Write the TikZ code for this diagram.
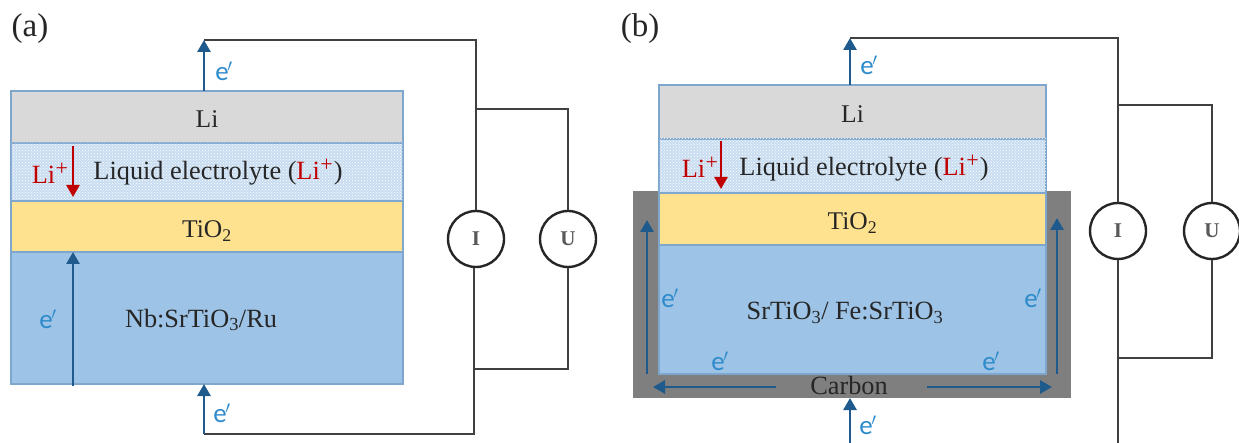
\documentclass[tikz,border=0pt]{standalone}
\usepackage{fontspec}
\setmainfont{Liberation Serif}
\newfontfamily\sfcal{Carlito}
\usetikzlibrary{arrows.meta,patterns}
\definecolor{edge}{HTML}{7FA6CC}
\definecolor{lig}{HTML}{D9D9D9}
\definecolor{eleb}{HTML}{C9DDF1}
\definecolor{tio}{HTML}{FFE28F}
\definecolor{sto}{HTML}{9DC3E6}
\definecolor{carb}{HTML}{7F7F7F}
\definecolor{arrb}{HTML}{1F5A8C}
\definecolor{elec}{HTML}{2E8BCB}
\definecolor{lir}{HTML}{C00000}
\definecolor{wire}{HTML}{404040}
\tikzset{
 layer/.style={draw=edge,line width=1.3pt,rectangle,inner sep=0pt,outer sep=0pt,anchor=north west,font=\fontsize{25.5}{27}\selectfont,text=black!85},
 lbl/.style={inner sep=0pt,font=\fontsize{26.3}{28}\selectfont,text=black!85},
 wirec/.style={draw=wire,line width=1.5pt},
 meter/.style={circle,draw=black!85,line width=2.4pt,minimum size=56pt,inner sep=0pt,font=\bfseries\fontsize{21}{23}\selectfont,fill=white,text=black!65},
 ecar/.style={draw=arrb,line width=2.7pt,-{Triangle[length=12pt,width=13pt]}},
 liar/.style={draw=lir,line width=2.5pt,-{Triangle[length=12pt,width=13pt]}},
 elab/.style={inner sep=0pt,text=elec,font=\sfcal\fontsize{27}{29}\selectfont},
 pan/.style={inner sep=0pt,font=\fontsize{33}{35}\selectfont,text=black!85}
}
\newcommand{\ep}{e\kern-1.5pt$'$}
\newcommand{\Lip}{\textcolor{lir}{Li\kern0.5pt\raisebox{8pt}{\fontsize{22}{22}\selectfont+}}}
\newcommand{\lowr}[1]{\raisebox{-2.5pt}[\height][0pt]{#1}}
\begin{document}
\begin{tikzpicture}[x=1pt,y=-1pt]
\useasboundingbox (0,0) rectangle (1239,443);
% ---------- panel (a)
\node[pan] (pa) at (30,29) {(a)};
\node[layer,fill=lig,minimum width=392pt,minimum height=52pt] (aLi) at (11,91) {\lowr{Li}};
\node[layer,fill=eleb,minimum width=392pt,minimum height=58pt] (aEl) at (11,143) {};
\fill[pattern=crosshatch dots,pattern color=white] (aEl.north west) rectangle (aEl.south east);
\node[layer,fill=tio,minimum width=392pt,minimum height=51pt] (aTi) at (11,201) {\lowr{TiO\textsubscript{2}}};
\node[layer,fill=sto,minimum width=392pt,minimum height=132pt] (aSt) at (11,252) {};
\node[lbl] (aElT) at (218,172) {Liquid electrolyte (\Lip\kern1pt)};
\node[lbl] (aLiI) at (50,173) {\Lip};
\node[lbl] (aStT) at (201,320) {Nb:SrTiO\textsubscript{3}/Ru};
\coordinate (aTopW) at (204,40);
\coordinate (aBotW) at (204,434);
\coordinate (aLiBot) at (204,91);
\coordinate (aStBot) at (204,384);
\node[meter] (aI) at (476,239) {I};
\node[meter] (aU) at (568,239) {U};
\coordinate (aJ1) at (476,109);
\coordinate (aJ1r) at (568,109);
\coordinate (aJ2) at (474,369);
\coordinate (aJ2r) at (568,369);
\coordinate (aC) at (476,40);
\coordinate (aD) at (474,434);
\draw[wirec] (aTopW) -- (aC) -- (aI.north);
\draw[wirec] (aI.south) ++(-2,0) -- (aD) -- (aBotW);
\draw[wirec] (aJ1) -- (aJ1r) -- (aU.north);
\draw[wirec] (aU.south) -- (aJ2r) -- (aJ2);
\draw[ecar] (aLiBot) -- (aTopW);
\draw[ecar] (aBotW) -- (aStBot);
\coordinate (aA1) at (73,386);
\coordinate (aA2) at (73,252);
\draw[ecar] (aA1) -- (aA2);
\coordinate (aR1) at (73,146);
\coordinate (aR2) at (73,197);
\draw[liar] (aR1) -- (aR2);
\node[elab] (ae1) at (224,71) {\ep};
\node[elab] (ae2) at (222,413) {\ep};
\node[elab] (ae3) at (48,319) {\ep};
% ---------- panel (b)
\node[pan] (pb) at (640,29) {(b)};
\node[rectangle,fill=carb,draw=none,inner sep=0pt,minimum width=438pt,minimum height=207pt,anchor=north west] (bC) at (633,191) {};
\node[layer,fill=lig,minimum width=387pt,minimum height=54pt] (bLi) at (659,85) {\lowr{Li}};
\node[layer,fill=eleb,minimum width=387pt,minimum height=54pt] (bEl) at (659,139) {};
\fill[pattern=crosshatch dots,pattern color=white] (bEl.north west) rectangle (bEl.south east);
\node[layer,fill=tio,minimum width=387pt,minimum height=52pt] (bTi) at (659,193) {\lowr{TiO\textsubscript{2}}};
\node[layer,fill=sto,minimum width=387pt,minimum height=129pt] (bSt) at (659,245) {};
\node[lbl] (bElT) at (864,168) {Liquid electrolyte (\Lip\kern1pt)};
\node[lbl] (bLiI) at (700,167) {\Lip};
\node[lbl] (bStT) at (845,313) {SrTiO\textsubscript{3}/ Fe:SrTiO\textsubscript{3}};
\node[lbl] (bCT) at (849,386) {Carbon};
\coordinate (bTopW) at (850,38);
\coordinate (bLiTop) at (850,85);
\coordinate (bBotS) at (850,443);
\coordinate (bBotE) at (850,398);
\draw[ecar] (bLiTop) -- (bTopW);
\draw[ecar] (bBotS) -- (bBotE);
\node[meter] (bI) at (1118,231) {I};
\node[meter] (bU) at (1212,231) {U};
\coordinate (bC1) at (1118,36);
\coordinate (bJ1) at (1118,105);
\coordinate (bJ1r) at (1212,105);
\coordinate (bJ2) at (1118,358);
\coordinate (bJ2r) at (1212,358);
\coordinate (bC2) at (1118,443);
\draw[wirec] (bTopW) -- (bC1 |- bTopW) -- (bI.north);
\draw[wirec] (bI.south) -- (bC2);
\draw[wirec] (bJ1) -- (bJ1r) -- (bU.north);
\draw[wirec] (bU.south) -- (bJ2r) -- (bJ2);
\coordinate (bA1) at (647,374);
\coordinate (bA2) at (647,220);
\coordinate (bA3) at (1057,374);
\coordinate (bA4) at (1057,218);
\coordinate (bA5) at (776,387);
\coordinate (bA6) at (653,387);
\coordinate (bA7) at (927,387);
\coordinate (bA8) at (1052,387);
\draw[ecar] (bA1) -- (bA2);
\draw[ecar] (bA3) -- (bA4);
\draw[ecar] (bA5) -- (bA6);
\draw[ecar] (bA7) -- (bA8);
\coordinate (bR1) at (721,141);
\coordinate (bR2) at (721,189);
\draw[liar] (bR1) -- (bR2);
\node[elab] (be1) at (869,65) {\ep};
\node[elab] (be2) at (868,425) {\ep};
\node[elab] (be3) at (670,298) {\ep};
\node[elab] (be4) at (1033,298) {\ep};
\node[elab] (be5) at (720,361) {\ep};
\node[elab] (be6) at (991,361) {\ep};
\end{tikzpicture}
\end{document}
